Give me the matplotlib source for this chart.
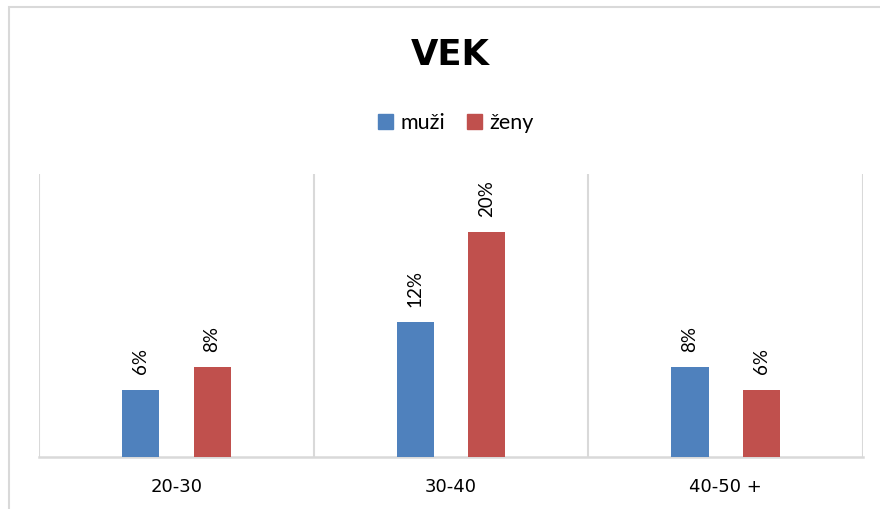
import matplotlib
matplotlib.use("Agg")
import matplotlib.pyplot as plt
from matplotlib.patches import Rectangle, Patch
import numpy as np

categories = ["20-30", "30-40", "40-50 +"]
muzi = [0.06, 0.12, 0.08]
zeny = [0.08, 0.20, 0.06]
series_names = ["muži", "ženy"]
title = "VEK"

blue = "#4F81BD"
red = "#C0504D"
grid_col = "#D9D9D9"

plt.rcParams['font.family'] = ['Lato', 'DejaVu Sans']

fig = plt.figure(figsize=(8.8, 5.09), dpi=100)
W, H = 880, 509

# outer chart frame (extends beyond the cropped right/bottom edges)
fig.patches.append(Rectangle((9 / W, -0.2), 1.2, 1.2 - 7.5 / H, transform=fig.transFigure,
                             fill=False, edgecolor=grid_col, linewidth=1.5))

ax = fig.add_axes([39 / W, (H - 457) / H, 824 / W, 283 / H])
x = np.arange(len(categories))
off = 0.13
bw = 0.135
b1 = ax.bar(x - off, muzi, bw, color=blue, label=series_names[0], zorder=3)
b2 = ax.bar(x + off, zeny, bw, color=red, label=series_names[1], zorder=3)

for bars, vals in ((b1, muzi), (b2, zeny)):
    for b, v in zip(bars, vals):
        ax.annotate(f"{int(round(v * 100))}%", (b.get_x() + b.get_width() / 2, v),
                    xytext=(0, 11), textcoords="offset points", rotation=90,
                    ha="center", va="bottom", fontsize=13.5, color="#000000")

ax.set_xlim(-0.5, 2.5)
ax.set_ylim(0, 0.252)
for xb in [-0.5, 0.5, 1.5, 2.5]:
    ax.axvline(xb, color=grid_col, linewidth=1.5, zorder=1)
for s in ["top", "right", "left"]:
    ax.spines[s].set_visible(False)
ax.spines["bottom"].set_color(grid_col)
ax.spines["bottom"].set_linewidth(1.8)
ax.set_yticks([])
ax.set_xticks(x)
ax.set_xticklabels(categories, fontsize=13, family=["DejaVu Sans"])
ax.tick_params(axis="x", length=0, pad=15)

fig.text(450 / W, 1 - 55 / H, title, ha="center", va="center", fontsize=25.5,
         fontweight="bold", family=["DejaVu Sans"])

handles = [Patch(color=blue), Patch(color=red)]
fig.legend(handles, series_names, loc="center", bbox_to_anchor=(456 / W, 1 - 123 / H),
           ncol=2, frameon=False, fontsize=15.5, handlelength=0.7, handleheight=0.7,
           handletextpad=0.35, columnspacing=1.0)

fig.savefig("out.png", dpi=100)
